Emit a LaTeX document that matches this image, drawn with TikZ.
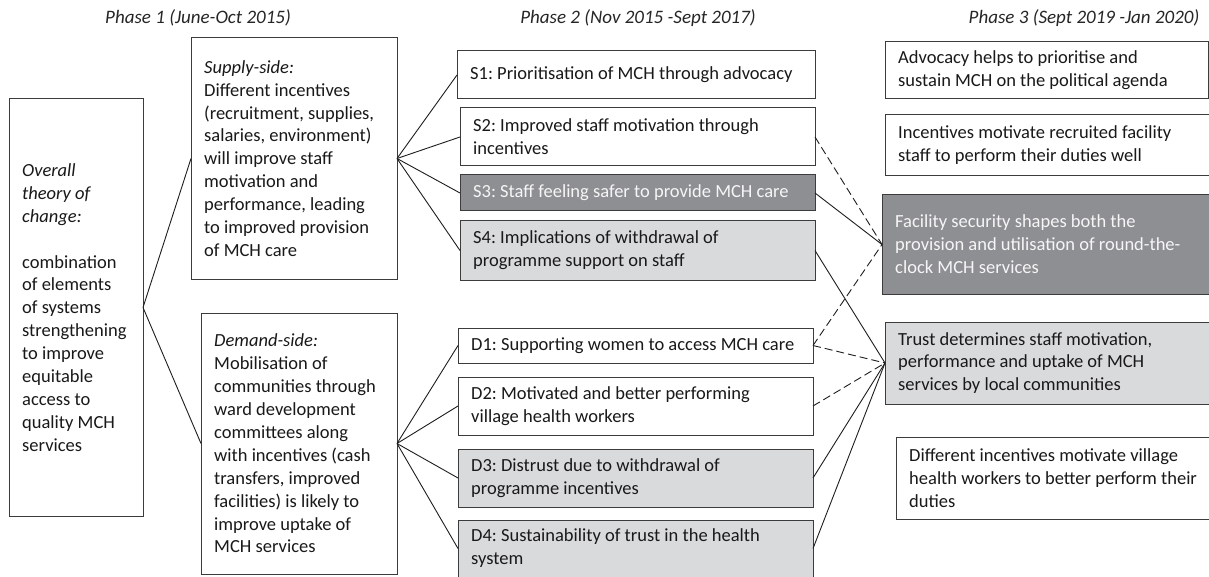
\documentclass[tikz,border=0pt]{standalone}
\usepackage{fontspec}
\setmainfont{Carlito}
\frenchspacing
\definecolor{bordercol}{RGB}{60,60,60}
\definecolor{darkfill}{RGB}{142,143,147}
\definecolor{lightfill}{RGB}{217,218,220}
\definecolor{darktext}{RGB}{246,246,246}
\definecolor{linecol}{RGB}{30,30,30}
% \bx{kind}{name}{x}{y}{width}{height}{text}
\newcommand{\bx}[7]{%
  \node[#1, minimum width=#5pt, minimum height=#6pt] (#2) at (#3,#4) {};
  \node[#1 text] (#2t) at ([xshift=13pt]#2.west) {#7};}
\begin{document}
\begin{tikzpicture}[x=1pt,y=-1pt,
  rectbase/.style={draw=bordercol, line width=1pt, rectangle, anchor=north west,
    inner sep=0pt, outer sep=0pt},
  box/.style={rectbase, fill=white},
  darkbox/.style={rectbase, fill=darkfill},
  lightbox/.style={rectbase, fill=lightfill},
  textbase/.style={anchor=west, align=left, inner sep=0pt,
    font=\fontsize{18.5}{22.9}\selectfont},
  box text/.style={textbase, text=black!90},
  lightbox text/.style={textbase, text=black!90},
  darkbox text/.style={textbase, text=darktext},
  phase/.style={font=\fontsize{19}{22}\selectfont\itshape, text=black!85},
  conn/.style={draw=linecol, line width=0.9pt},
  dconn/.style={conn, dash pattern=on 8pt off 4pt}]
\useasboundingbox (0,0) rectangle (1209,577);
\fill[white] (0,0) rectangle (1209,577);

% phase headers
\node[phase] (ph1) at (198,18) {Phase 1 (June-Oct 2015)};
\node[phase] (ph2) at (638,18) {Phase 2 (Nov 2015 -Sept 2017)};
\node[phase] (ph3) at (1084,18) {Phase 3 (Sept 2019 -Jan 2020)};

% phase 1
\bx{box}{ov}{9}{99}{134}{417}
 {\textit{Overall}\\\textit{theory of}\\\textit{change:}\\\mbox{}\\combination\\of elements\\of systems\\strengthening\\to improve\\equitable\\access to\\quality MCH\\services}
\bx{box}{sup}{191}{38}{206}{241}
 {\textit{Supply-side:}\\Different incentives\\(recruitment, supplies,\\salaries, environment)\\will improve staff\\motivation and\\performance, leading\\to improved provision\\of MCH care}
\bx{box}{dem}{201}{313}{196}{261}
 {\textit{Demand-side:}\\Mobilisation of\\communities through\\ward development\\committees along\\with incentives (cash\\transfers, improved\\facilities) is likely to\\improve uptake of\\MCH services}

% phase 2
\bx{box}{s1}{457}{51}{358}{48}{S1: Prioritisation of MCH through advocacy}
\bx{box}{s2}{460}{108}{355}{58}{S2: Improved staff motivation through\\incentives}
\bx{darkbox}{s3}{460}{175}{355}{36}{S3: Staff feeling safer to provide MCH care}
\bx{lightbox}{s4}{460}{221}{355}{59}{S4: Implications of withdrawal of\\programme support on staff}
\bx{box}{d1}{458}{328}{355}{35}{D1: Supporting women to access MCH care}
\bx{box}{d2}{458}{377}{355}{58}{D2: Motivated and better performing\\village health workers}
\bx{lightbox}{d3}{458}{449}{355}{58}{D3: Distrust due to withdrawal of\\programme incentives}
\bx{lightbox}{d4}{458}{520}{355}{57}{D4: Sustainability of trust in the health\\system}

% phase 3
\bx{box}{pa}{885}{42}{323}{57}{Advocacy helps to prioritise and\\sustain MCH on the political agenda}
\bx{box}{pb}{885}{115}{327}{61}{Incentives motivate recruited facility\\staff to perform their duties well}
\bx{darkbox}{pc}{882}{195}{330}{99}{Facility security shapes both the\\provision and utilisation of round-the-\\clock MCH services}
\bx{lightbox}{pd}{885}{322}{327}{82}{Trust determines staff motivation,\\performance and uptake of MCH\\services by local communities}
\bx{box}{pe}{896}{437}{316}{82}{Different incentives motivate village\\health workers to better perform their\\duties}

% connectors phase 1 -> 2
\draw[conn] (ov.east) -- (sup.west);
\draw[conn] (ov.east) -- (dem.west);
\foreach \t in {s1,s2,s3,s4} \draw[conn] (sup.east) -- (\t.west);
\foreach \t in {d1,d2,d3,d4} \draw[conn] (dem.east) -- (\t.west);

% connectors phase 2 -> 3
\draw[dconn] (s2.east) -- (pc.west);
\draw[conn] (s3.east) -- (pc.west);
\draw[conn] (s4.east) -- (pd.west);
\draw[dconn] (d1.east) -- (pc.west);
\draw[dconn] (d1.east) -- (pd.west);
\draw[dconn] (d2.east) -- (pd.west);
\draw[conn] (d3.east) -- (pd.west);
\draw[conn] (d4.east) -- (pd.west);
\end{tikzpicture}
\end{document}
